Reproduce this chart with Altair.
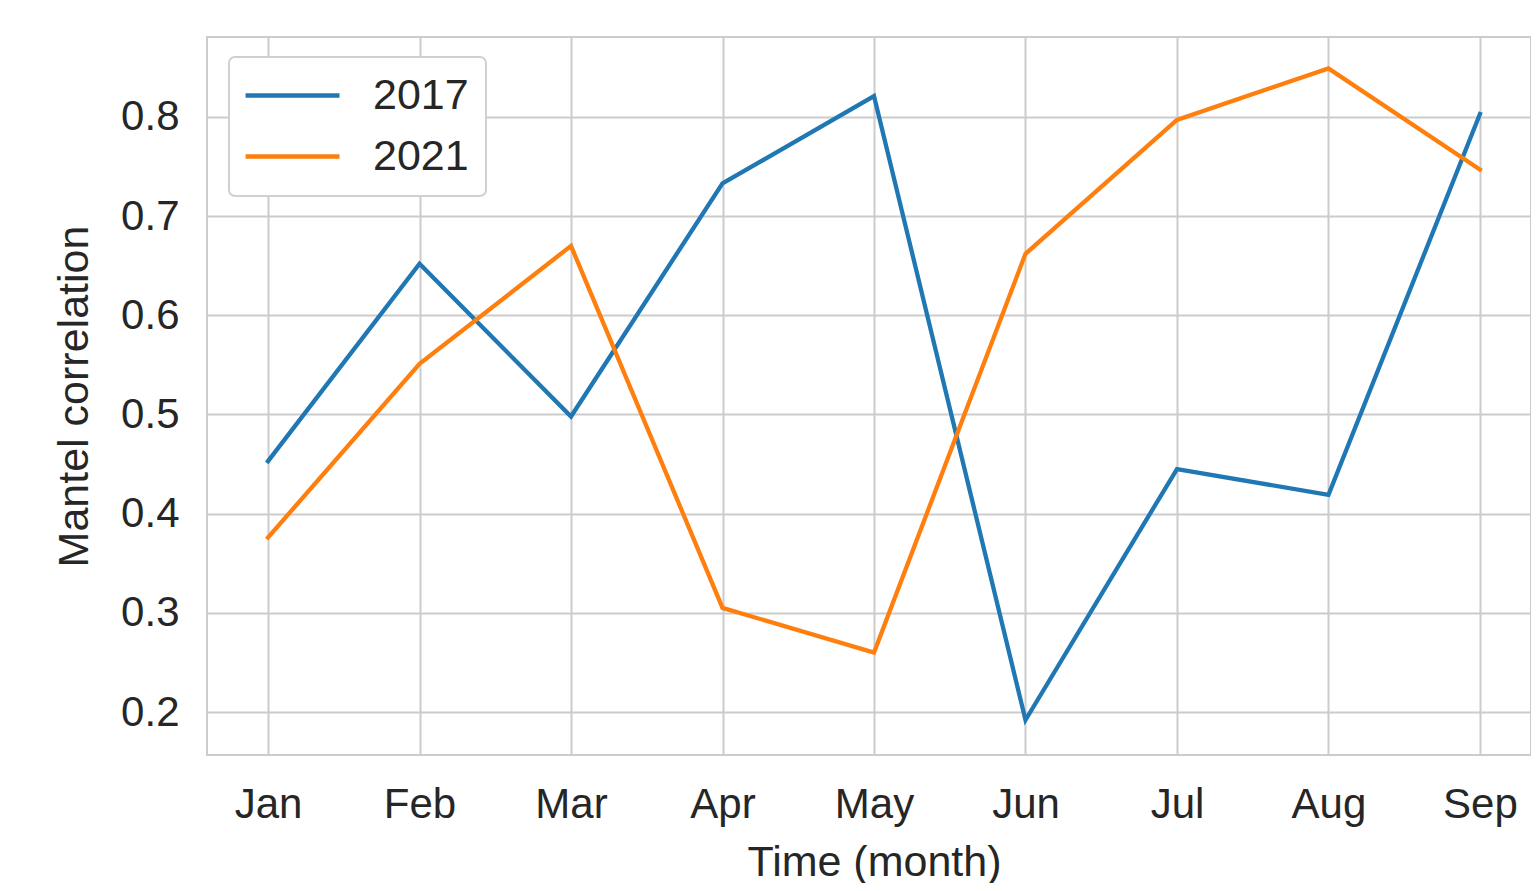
import altair as alt
import pandas as pd

months = ["Jan", "Feb", "Mar", "Apr", "May", "Jun", "Jul", "Aug", "Sep"]
series_names = ["2017", "2021"]
values_2017 = [0.453, 0.652, 0.498, 0.733, 0.821, 0.192, 0.445, 0.419, 0.803]
values_2021 = [0.376, 0.551, 0.670, 0.305, 0.260, 0.662, 0.797, 0.849, 0.747]
y_ticks = [0.2, 0.3, 0.4, 0.5, 0.6, 0.7, 0.8]

rows = []
for i, m in enumerate(months):
    rows.append({"idx": i, "month": m, "year": "2017", "value": values_2017[i]})
    rows.append({"idx": i, "month": m, "year": "2021", "value": values_2021[i]})
df = pd.DataFrame(rows)

label_expr = "[" + ",".join("'" + m + "'" for m in months) + "][datum.value]"

FONT = "Liberation Sans"
TXT = "#262626"
GRID = "#cccccc"

chart = (
    alt.Chart(df)
    .mark_line(strokeWidth=4.3, strokeCap="square", strokeJoin="miter")
    .encode(
        x=alt.X(
            "idx:Q",
            scale=alt.Scale(domain=[-0.403, 8.337], nice=False, zero=False),
            axis=alt.Axis(
                values=list(range(len(months))),
                labelExpr=label_expr,
                title="Time (month)",
                titleX=667,
                titleAlign="center",
                titlePadding=16,
                labelPadding=29,
            ),
        ),
        y=alt.Y(
            "value:Q",
            scale=alt.Scale(domain=[0.1567, 0.8806], nice=False, zero=False),
            axis=alt.Axis(
                values=y_ticks,
                format=".1f",
                title="Mantel correlation",
                titlePadding=24,
                labelPadding=28,
            ),
        ),
        color=alt.Color(
            "year:N",
            scale=alt.Scale(domain=series_names, range=["#1f77b4", "#ff7f0e"]),
            legend=alt.Legend(
                title=None,
                orient="none",
                legendX=22,
                legendY=20,
                symbolType="M-1.22,0H4",
                symbolSize=1296,
                symbolStrokeWidth=4.3,
                labelFontSize=43,
                labelFont=FONT,
                labelColor=TXT,
                labelOffset=84,
                rowPadding=17,
                padding=17,
                strokeColor="#d0d0d0",
                fillColor="white",
                cornerRadius=6,
            ),
        ),
        order="idx:Q",
    )
    .properties(
        width=1324,
        height=718,
        autosize=alt.AutoSizeParams(type="none"),
        padding={"left": 199, "top": 29, "right": 0, "bottom": 128},
    )
    .configure_view(stroke=GRID, strokeWidth=2)
    .configure_axis(
        labelFont=FONT,
        titleFont=FONT,
        labelFontSize=42,
        titleFontSize=43,
        titleFontWeight="normal",
        labelColor=TXT,
        titleColor=TXT,
        domain=False,
        ticks=False,
        tickSize=0,
        grid=True,
        gridColor=GRID,
        gridWidth=2,
    )
    .configure_legend(strokeWidth=2)
)

chart.save("out.html", embed_options={"renderer": "svg", "actions": False})
